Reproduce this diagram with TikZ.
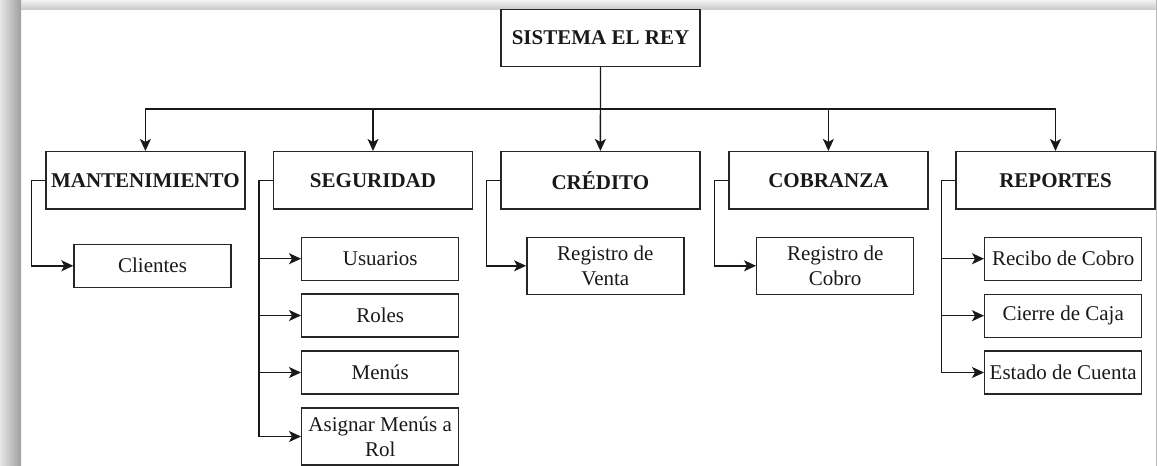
\documentclass[tikz,border=0pt]{standalone}
\usepackage{fontspec}
\setmainfont{Liberation Serif}
\usetikzlibrary{arrows.meta}

\begin{document}
\begin{tikzpicture}[x=1pt,y=-1pt,line width=1.4pt,
  every node/.style={draw=black!85,line width=1.4pt,inner sep=0pt,align=center,text=black!90,font=\fontsize{21}{25}\selectfont},
  modbox/.style={minimum width=199pt,minimum height=57.3pt,font=\fontsize{21}{25}\selectfont\bfseries},
  itembox/.style={minimum width=157pt,minimum height=43pt},
  itemtall/.style={minimum width=157pt,minimum height=57pt},
  link/.style={draw=black!90,-{Stealth[length=12pt,width=11pt,inset=3pt]}}]

  \useasboundingbox (0,0) rectangle (1157,466);

  % frame of the screenshot
  \shade[top color=gray!10,bottom color=gray!40] (0,0) rectangle (1157,9);
  \shade[left color=gray!20,right color=gray!75] (0,0) rectangle (21,466);
  \fill[gray!55] (1155.5,0) rectangle (1157,466);

  % Specification of nodes (position, etc.)
  \node[modbox] (root) at (600.5,38) {SISTEMA EL REY};
  \coordinate (bus) at (600.5,109);

  \node[modbox] (mant) at (145.4,180.3) {MANTENIMIENTO};
  \node[modbox] (seg) at (373,180.3) {SEGURIDAD};
  \node[modbox] (cred) at (600.4,180.3) {CRÉDITO};
  \node[modbox] (cob) at (828.4,180.3) {COBRANZA};
  \node[modbox] (rep) at (1055.5,180.3) {REPORTES};

  \node[itembox] (cli) at (152.5,265.8) {Clientes};

  \node[itembox] (usu) at (380.2,258.7) {Usuarios};
  \node[itembox] (rol) at (380.2,315.5) {Roles};
  \node[itembox] (men) at (380.2,372.5) {Menús};
  \node[itemtall] (asig) at (380.2,436.5) {Asignar Menús a\\Rol};

  \node[itemtall] (venta) at (605.3,265.8) {Registro de\\Venta};
  \node[itemtall] (cobro) at (835.2,265.8) {Registro de\\Cobro};

  \node[itembox] (rec) at (1063.2,258.7) {Recibo de Cobro};
  \node[itembox] (cie) at (1063.2,315.7) {Cierre de Caja};
  \node[itembox] (est) at (1063.2,372.5) {Estado de Cuenta};

  \begin{scope}[link]
    \draw (root.south) -- (cred.north);
    \draw (root.south) -- (bus) -| (mant.north);
    \draw (root.south) -- (bus) -| (seg.north);
    \draw (root.south) -- (bus) -| (cob.north);
    \draw (root.south) -- (bus) -| (rep.north);

    \draw (mant.west) -- ++(-14,0) |- (cli.west);

    \draw (seg.west) -- ++(-14,0) |- (usu.west);
    \draw (seg.west) -- ++(-14,0) |- (rol.west);
    \draw (seg.west) -- ++(-14,0) |- (men.west);
    \draw (seg.west) -- ++(-14,0) |- (asig.west);

    \draw (cred.west) -- ++(-14,0) |- (venta.west);
    \draw (cob.west) -- ++(-14,0) |- (cobro.west);

    \draw (rep.west) -- ++(-14,0) |- (rec.west);
    \draw (rep.west) -- ++(-14,0) |- (cie.west);
    \draw (rep.west) -- ++(-14,0) |- (est.west);
  \end{scope}

\end{tikzpicture}
\end{document}
